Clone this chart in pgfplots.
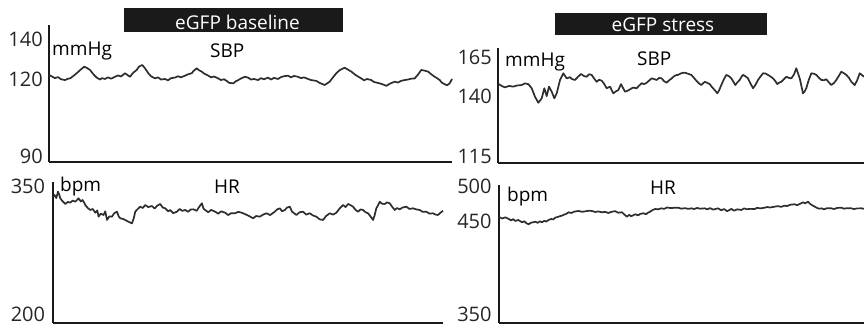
\documentclass[border=0pt]{standalone}
\usepackage{pgfplots}
\pgfplotsset{compat=1.18}
\usepackage{fontspec}
\setmainfont{Open Sans}
\definecolor{trace}{HTML}{2E2E2E}
\definecolor{axisc}{HTML}{1A1A1A}
\pgfplotsset{
  panel/.style={
    scale only axis, enlargelimits=false,
    axis x line*=bottom, axis y line*=left,
    axis line style={line width=2bp, color=axisc},
    xtick=\empty, major tick length=0pt,
    tick label style={font=\fontsize{20bp}{24bp}\selectfont, color=black!85},
    yticklabel style={anchor=east, inner sep=0pt},
    clip=false,
  },
  tr/.style={color=trace, line width=1.7bp, line join=round, no marks},
}
\begin{document}
\begin{tikzpicture}
% ---------- left top: SBP baseline ----------
\begin{axis}[panel, at={(49bp,169bp)}, anchor=south west, width=403bp, height=137bp,
  xmin=0, xmax=403, ymin=90, ymax=140,
  ytick={90,120,140}, yticklabels={\smash{\raisebox{-2bp}{90}},\smash{\raisebox{-7.2bp}{120}},\smash{\raisebox{-21.5bp}{140}}},
  yticklabel style={xshift=-6bp}]
\addplot[tr] coordinates {
(0,121.8)(3,121.2)(6,120.6)(9,121.0)(12,120.2)(16,119.9)(19,120.4)(21,120.5)(24,121.3)(27.7,122.4)
(31,123.5)(35.3,124.8)(38,124.3)(41,123.6)(44,122.2)(47.7,120.8)(51,120.1)(53,120.6)(56,120.3)(59,120.9)
(62,120.4)(66,121.1)(69,121.6)(72,121.2)(76,122.4)(79,121.6)(81,121.1)(84,122.5)(87.7,123.6)(90,124.8)
(93.3,125.4)(96,124.2)(99.3,122.4)(102,121.3)(106,120.5)(109,120.9)(112,120.1)(116,120.3)(119,119.8)(122,120.6)
(126,120.8)(129,121.3)(132,120.9)(136,121.5)(139,122.0)(142.7,122.4)(145,123.4)(147.7,124.2)(150,123.5)(152.7,123.0)
(155,122.3)(159.3,121.5)(162,120.9)(165,121.2)(169.3,120.5)(172,119.9)(175,120.2)(177.7,119.6)(180,118.9)(184.3,118.7)
(187,119.5)(189.3,119.9)(192,120.5)(196,121.1)(199,120.8)(202,120.1)(205,120.3)(209,119.9)(212,120.6)(215,120.2)
(219,120.8)(222,120.1)(225,120.7)(229,120.3)(232,121.0)(235,121.3)(239,121.5)(242,120.9)(245,121.4)(249,121.1)
(252,120.6)(255,120.9)(259,120.3)(262,119.9)(267.3,119.6)(271,118.8)(275.7,118.1)(280.7,119.3)(284,120.9)(287.3,122.4)
(291,123.6)(295.7,124.4)(299,123.7)(302.3,123.0)(306,121.9)(309,121.2)(312.3,120.5)(315,119.8)(318,120.3)(322.3,119.9)
(325,119.2)(330.7,118.7)(334,118.3)(337.3,117.8)(341,118.6)(345.7,119.3)(349,119.0)(352,119.6)(355.7,119.9)(359,120.1)
(362,120.4)(365.7,120.5)(369,121.9)(372.3,123.6)(375,123.4)(379,123.0)(382,122.1)(385.7,121.1)(388,120.6)(390.7,119.9)
(393,118.9)(395.7,118.4)(398,118.0)(400.7,118.7)(403,120.3)
};
\end{axis}
% ---------- left bottom: HR baseline ----------
\begin{axis}[panel, at={(53.3bp,8.3bp)}, anchor=south west, width=389.7bp, height=141bp,
  xmin=0, xmax=390, ymin=200, ymax=350,
  ytick={200,350}, yticklabels={\smash{\raisebox{1.4bp}{200}},\smash{\raisebox{-11.4bp}{350}}},
  yticklabel style={xshift=-8bp}]
\addplot[tr] coordinates {
(0,334)(1.3,335.9)(3,332.5)(4.7,339.4)(6,336)(7,332.3)(9,329.5)(12,326.3)(14.5,328.5)(17,327.7)
(19.5,330.0)(22,328.7)(25.3,332.3)(27.5,329.0)(29.3,330.5)(31,327.5)(32,325.2)(34.5,322.0)(37,319.9)(39.5,321.0)
(42,317.0)(44,319.5)(45.3,312.8)(47.5,316.0)(50.3,314.6)(52,318.5)(53.7,309.3)(56,313.0)(58.7,312.8)(61,316.5)
(63.7,318.1)(65.5,313.0)(67,311.1)(69.5,310.5)(72,309.3)(75,307.5)(78.7,305.7)(80.5,311.0)(82,318.1)(84.5,321.0)
(87,323.4)(89.5,322.0)(92,325.2)(95,323.0)(98.7,324.1)(101.5,321.5)(104,324.5)(107,326.3)(109.5,322.5)(112,321.7)
(115,318.5)(117,319.9)(120,316.5)(123.7,318.1)(126.5,321.0)(129,319.0)(132,319.9)(135,318.0)(137.5,320.5)(140.3,320.6)
(143.5,319.0)(145.5,322.5)(148.7,327.0)(150.5,321.0)(152,319.9)(155,317.5)(158,320.0)(162,318.1)(165,316.0)(168,318.5)
(172,317.0)(175,314.5)(178,316.5)(182,316.4)(185,318.0)(188.5,317.0)(190,316.4)(195,314.0)(200,311.1)(203,313.5)
(206.7,312.8)(210,315.0)(213.3,316.4)(217,314.5)(221.7,318.1)(224,320.5)(226.7,321.7)(229,318.5)(231.7,319.9)(234,322.5)
(236.7,323.4)(239,318.0)(243.3,314.6)(246.5,317.5)(250,318.1)(253,315.0)(256.7,316.4)(260,314.0)(263.3,312.8)(266.5,310.0)
(270,309.3)(273,313.5)(276.7,316.4)(280,315.0)(283.3,317.0)(286.5,321.5)(290,325.2)(292.5,323.0)(295,326.3)(297.5,325.0)
(300,323.4)(302.5,320.0)(305,318.1)(307.5,320.5)(310,319.9)(312.5,317.5)(315,316.4)(317.5,313.0)(320,309.3)(321.5,314.0)
(323.3,321.7)(325,325.0)(326.7,328.7)(329,326.5)(331.7,326.3)(334,328.0)(336.7,327.0)(339,323.5)(341.7,319.9)(344,322.0)
(346.7,320.6)(349.5,322.5)(353.3,323.4)(356.5,321.0)(360,321.7)(363.5,320.5)(366.7,319.9)(369.5,318.0)(373.3,318.1)(376.5,316.0)
(380,316.4)(382.5,315.0)(385,314.6)(387.5,317.0)(390,319.1)
};
\end{axis}
% ---------- right top: SBP stress ----------
\begin{axis}[panel, at={(498bp,168bp)}, anchor=south west, width=366bp, height=115bp,
  xmin=0, xmax=366, ymin=115, ymax=165,
  ytick={115,140,165}, yticklabels={\smash{\raisebox{-0.1bp}{115}},\smash{\raisebox{2.4bp}{140}},\smash{\raisebox{-16.8bp}{165}}},
  yticklabel style={xshift=-6bp}]
\addplot[tr] coordinates {
(1,149.3)(4,148.4)(7,147.9)(11,148.5)(15.3,148.2)(19,148.7)(23.7,148.9)(27,149.6)(30.3,149.3)(33.7,147.5)
(37,143.8)(40.3,141.2)(43.7,143.1)(46.3,147.5)(48.7,144.1)(51,148.2)(53.7,146.0)(56.3,143.1)(58.7,145.3)(62,151.1)
(65.3,154.0)(68.7,151.8)(72,152.3)(74,151.5)(77,151.1)(80,152.5)(83,153.7)(86,152.8)(88.7,152.5)(91,153.6)
(93.7,153.3)(96,151.8)(98.7,150.3)(101,151.2)(103.7,150.8)(106,149.5)(108.7,147.5)(112,148.2)(115.3,145.3)(118,146.2)
(120.3,146.7)(123,149.3)(127,146.0)(130,146.5)(132,147.0)(135,147.8)(138.7,147.5)(141,148.6)(143.7,149.7)(146,149.3)
(148.7,149.9)(151,150.8)(153.7,151.8)(156,151.5)(158.7,151.1)(161,152.0)(163.7,151.8)(166,150.6)(168.7,149.9)(171,150.9)
(173.7,151.8)(176,152.7)(178.7,153.3)(180,153.3)(183,154.0)(186.7,154.3)(190,153.8)(193.3,153.3)(196,152.0)(198.3,150.8)
(201,149.6)(203.3,148.9)(206.7,150.3)(209,149.9)(211.7,149.3)(214,148.0)(216.7,146.7)(219.3,145.3)(221,146.5)(223.3,148.9)
(226,151.5)(228.3,153.3)(231,152.7)(233.3,151.8)(235,150.6)(237.3,148.9)(239,149.9)(241.7,151.1)(243.5,152.5)(245,153.3)
(247.5,152.7)(250,151.8)(252,150.0)(255,147.5)(257.5,149.0)(260,151.1)(262.5,152.6)(265,154.0)(267.5,153.9)(270,153.3)
(272.5,152.6)(275,151.8)(277,150.8)(279.3,149.3)(281.5,150.0)(283.3,150.3)(286,151.5)(288.3,152.5)(291,152.0)(293.3,151.8)
(296,153.5)(298.3,156.2)(300,154.0)(301.7,151.8)(303.5,148.3)(305,145.3)(306.5,146.0)(308.3,147.5)(310.5,150.8)(313.3,154.0)
(316,153.8)(318.3,153.3)(321,152.0)(323.3,151.1)(326,151.0)(328.3,151.4)(331,150.0)(333.3,148.9)(336,149.8)(338.3,151.1)
(341,153.0)(343.3,154.7)(346,154.0)(348.3,153.3)(351,152.0)(353.3,150.3)(355,149.6)(356.7,148.9)(359,150.8)(361.7,154.0)
(364,153.2)(366,152.5)
};
\end{axis}
% ---------- right bottom: HR stress ----------
\begin{axis}[panel, at={(499.3bp,8.3bp)}, anchor=south west, width=364.7bp, height=137.7bp,
  xmin=0, xmax=365, ymin=350, ymax=500,
  ytick={350,450,500}, yticklabels={\smash{\raisebox{1.4bp}{350}},\smash{\raisebox{2.8bp}{450}},\smash{\raisebox{-8.1bp}{500}}},
  yticklabel style={xshift=-7.5bp}]
\addplot[tr] coordinates {
(0,465.0)(3,463.5)(6,464.8)(9.3,463.0)(12,461.5)(14,462.8)(16,460.8)(19,461.9)(22.7,459.4)(25,460.5)
(27,458.5)(29.3,457.2)(31.5,458.8)(34,459.5)(36,460.0)(38.5,458.8)(40.5,460.5)(42.7,459.4)(45,461.0)(47,460.2)
(49.3,461.9)(52,463.0)(54,462.5)(56,464.4)(58.5,465.2)(60.5,466.0)(62.7,466.6)(65,467.8)(67,468.5)(69.3,470.3)
(72,469.5)(75,471.0)(79.3,471.7)(83,470.8)(87,471.5)(90,472.0)(92.7,471.7)(96,470.6)(99,471.2)(102.7,470.3)
(106,470.8)(109,469.5)(112.7,470.9)(116,471.5)(119,469.8)(122.7,470.3)(125,468.0)(127.7,465.5)(130,467.5)(132,466.0)
(136,468.1)(139,467.0)(141,468.5)(144.3,469.2)(147,468.2)(149,470.0)(151,470.9)(153,472.5)(156,473.9)(159,473.5)
(162,474.6)(165,474.0)(168,475.5)(172,474.8)(176,475.3)(179,475.3)(182,474.2)(186,474.8)(189,474.0)(192.3,474.6)
(195,473.8)(198,475.0)(201,474.2)(205.7,474.6)(208,473.5)(211,474.8)(214,473.2)(219,474.6)(222,472.5)(225,473.8)
(228,471.5)(232.3,473.9)(235,472.0)(238,473.5)(242.3,472.8)(245,474.5)(248,473.6)(251,474.0)(255.7,473.9)(258,475.2)
(261,474.5)(265.7,475.3)(268,476.0)(271,475.5)(275.7,476.4)(279,477.0)(282,476.2)(285.7,477.5)(288,477.0)(291,478.5)
(295.7,479.0)(298,478.0)(301,479.5)(304,481.2)(306,480.0)(309,481.8)(311,479.5)(313,478.0)(315.7,476.4)(318,475.0)
(320,474.2)(322.3,474.6)(325,473.5)(328,474.8)(332.3,474.6)(335,473.8)(338,475.0)(342.3,475.3)(345,474.2)(348,474.8)
(352.3,474.6)(355,473.8)(358,474.5)(362.3,474.6)(365,474.0)
};
\end{axis}
% ---------- titles and labels ----------
\fill[axisc] (124bp,298.7bp) rectangle (343.3bp,322.7bp);
\fill[axisc] (555bp,296bp) rectangle (766.7bp,318.3bp);
\begin{scope}[every node/.style={inner sep=0pt, font=\fontsize{19bp}{22bp}\selectfont}]
\node[anchor=base, white] at (237.5bp,301bp) {eGFP baseline};
\node[anchor=base, white] at (663bp,299.3bp) {eGFP stress};
\node[anchor=base west] at (52bp,275bp) {mmHg};
\node[anchor=base west] at (210bp,273bp) {SBP};
\node[anchor=base west] at (505bp,264.3bp) {mmHg};
\node[anchor=base west] at (637bp,265bp) {SBP};
\node[anchor=base west] at (60bp,139.5bp) {bpm};
\node[anchor=base west] at (214bp,137.7bp) {HR};
\node[anchor=base west] at (507bp,129.3bp) {bpm};
\node[anchor=base west] at (650bp,136.7bp) {HR};
\end{scope}
\pgfresetboundingbox
\path[use as bounding box] (0bp,0bp) rectangle (864bp,331bp);
\end{tikzpicture}
\end{document}
